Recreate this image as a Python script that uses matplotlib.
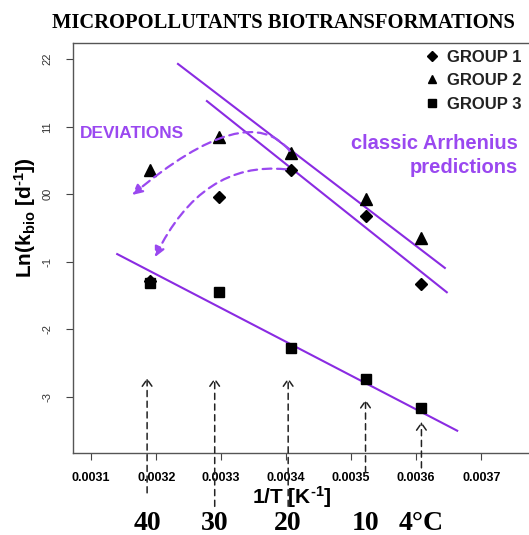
import matplotlib
matplotlib.use('Agg')
import matplotlib.pyplot as plt
import matplotlib.transforms as mtransforms

plt.rcParams['font.family'] = ['Liberation Sans', 'DejaVu Sans']
plt.rcParams['mathtext.fontset'] = 'custom'
plt.rcParams['mathtext.rm'] = 'Liberation Sans:bold'
plt.rcParams['mathtext.it'] = 'Liberation Sans:bold'
plt.rcParams['mathtext.bf'] = 'Liberation Sans:bold'
plt.rcParams['mathtext.default'] = 'rm'

# 1/T of the measured temperatures (40, 30, 20, 10, 4 degC)
inv_T = [0.00319, 0.003297, 0.003408, 0.003522, 0.003607]
group1 = [-1.28, -0.04, 0.36, -0.32, -1.33]
group2 = [0.36, 0.85, 0.61, -0.07, -0.65]
group3 = [-1.31, -1.45, -2.28, -2.73, -3.16]

# classic Arrhenius prediction lines (x0, x1, y0, y1)
arr_upper = ([0.0032335, 0.003644], [1.93, -1.09])
arr_lower = ([0.003278, 0.003647], [1.38, -1.45])
arr_g3 = ([0.00314, 0.003663], [-0.885, -3.50])

# temperature markers under the axis
temp_labels = ['40', '30', '20', '10', '4°C']
temp_x = [0.003186, 0.00329, 0.003403, 0.003522, 0.003608]
temp_tip = [-2.72, -2.72, -2.72, -3.04, -3.37]
temp_base = [-4.42, -4.62, -4.62, -4.12, -4.05]

yticks = [2, 1, 0, -1, -2, -3]
ytick_labels = ['22', '11', '00', '-1', '-2', '-3']
xticks = [0.0031, 0.0032, 0.0033, 0.0034, 0.0035, 0.0036, 0.0037]

purple = '#8A2BE2'
purple_light = '#9A48F0'

fig = plt.figure(figsize=(5.29, 5.35), dpi=100)
ax = fig.add_axes([73/529, 82/535, 470/529, 410/535])

ax.plot(*arr_upper, color=purple, lw=1.5)
ax.plot(*arr_lower, color=purple, lw=1.5)
ax.plot(*arr_g3, color=purple, lw=1.5)

ax.plot(inv_T, group1, 'D', color='black', ms=6.5, ls='None', label='GROUP 1')
ax.plot(inv_T, group2, '^', color='black', ms=8, ls='None', label='GROUP 2')
ax.plot(inv_T, group3, 's', color='black', ms=7, ls='None', label='GROUP 3')

# deviation arrows
ax.annotate('', xy=(0.003163, -0.01), xytext=(inv_T[2], group2[2]),
            arrowprops=dict(arrowstyle='-|>,head_length=0.6,head_width=0.3', color=purple_light,
                            lw=1.6, ls=(0, (4, 2.5)), shrinkA=2, shrinkB=0,
                            connectionstyle='angle3,angleA=126,angleB=40'))
ax.annotate('', xy=(0.003198, -0.93), xytext=(inv_T[2], group1[2]),
            arrowprops=dict(arrowstyle='-|>,head_length=0.6,head_width=0.3', color=purple_light,
                            lw=1.6, ls=(0, (4, 2.5)), shrinkA=4, shrinkB=0,
                            connectionstyle='angle3,angleA=172,angleB=64'))

for x, tip, base in zip(temp_x, temp_tip, temp_base):
    ax.annotate('', xy=(x, tip), xytext=(x, base), annotation_clip=False,
                arrowprops=dict(arrowstyle='->,head_length=0.5,head_width=0.35', color='#222222',
                                lw=1.1, ls=(0, (4, 3)), shrinkA=0, shrinkB=0))

ax.text(0.003083, 0.905, 'DEVIATIONS', color=purple_light, fontsize=12.4, fontweight='bold', va='center')
ax.text(0.003757, 0.572, 'classic Arrhenius\npredictions', color=purple_light, fontsize=14.5,
        fontweight='bold', ha='right', va='center', linespacing=1.3)

ax.set_xlim(0.003072, 0.003795)
ax.set_ylim(-3.83, 2.24)
ax.set_xticks(xticks)
ax.set_xticklabels([f'{v:.4f}' for v in xticks], fontsize=9, fontweight='bold')
ax.set_yticks(yticks)
ax.set_yticklabels(ytick_labels, rotation=90, va='center', fontsize=8, color='#333333')
ax.tick_params(axis='x', direction='out', length=5, pad=9, color='#444444')
ax.tick_params(axis='y', direction='out', length=5, pad=10, color='#444444')
for s in ax.spines.values():
    s.set_color('#555555')
    s.set_linewidth(1.0)

leg = ax.legend(loc='upper left', bbox_to_anchor=(425/529, 1 - 50/535), bbox_transform=fig.transFigure,
                frameon=False, handlelength=0.8, handletextpad=0.5, labelspacing=0.5, markerscale=0.8,
                borderaxespad=0, borderpad=0, prop=dict(size=12, weight='bold'))
for t in leg.get_texts():
    t.set_color('#222222')

fig.text(283/529, 1 - 28/535, 'MICROPOLLUTANTS BIOTRANSFORMATIONS', family='Liberation Serif',
         fontweight='bold', fontsize=14.8, ha='center', va='baseline')
fig.text(292/529, 1 - 497/535, r'1/T [K$^{\text{-}1}$]', fontsize=15, fontweight='bold', ha='center', va='center')
fig.text(25/529, 1 - 218/535, r'Ln(k$_{bio}$ [d$^{\text{-}1}$])', fontsize=15, fontweight='bold',
         rotation=90, ha='center', va='center')

trans = mtransforms.blended_transform_factory(ax.transData, fig.transFigure)
for x, lab in zip(temp_x, temp_labels):
    ax.text(x, 1 - 530/535, lab, transform=trans, family='Liberation Serif', fontweight='bold',
            fontsize=20, ha='center', va='baseline')

fig.savefig('out.png', dpi=100)
